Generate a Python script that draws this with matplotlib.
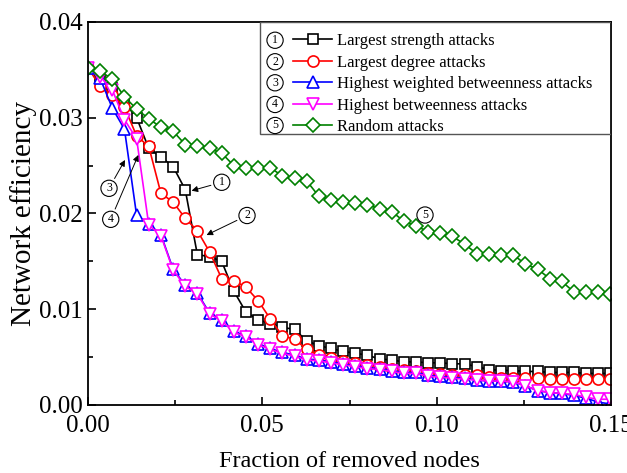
import numpy as np
import matplotlib
matplotlib.use("Agg")
import matplotlib.pyplot as plt
from matplotlib.patches import Rectangle

plt.rcParams['font.family'] = ['Liberation Serif', 'DejaVu Serif']

# fraction of removed nodes: k removed out of 287 nodes
n_nodes = 287
removed = np.arange(44)
frac = removed / n_nodes

strength = [0.0352, 0.0342, 0.0331, 0.0316, 0.0300, 0.0268, 0.0259, 0.0249, 0.0225, 0.0157,
            0.0155, 0.0150, 0.0119, 0.0097, 0.0089, 0.0085, 0.0081, 0.0079, 0.0067, 0.0062,
            0.0059, 0.0056, 0.0054, 0.0052, 0.0048, 0.0047, 0.0045, 0.0045, 0.0044, 0.0044,
            0.0043, 0.0043, 0.0040, 0.0037, 0.0036, 0.0036, 0.0035, 0.0035, 0.0034, 0.0034,
            0.0034, 0.0033, 0.0033, 0.0033]
degree = [0.0352, 0.0333, 0.0324, 0.0311, 0.0281, 0.0270, 0.0221, 0.0212, 0.0195, 0.0182,
          0.0160, 0.0132, 0.0130, 0.0123, 0.0109, 0.0090, 0.0072, 0.0069, 0.0058, 0.0052,
          0.0049, 0.0046, 0.0044, 0.0042, 0.0040, 0.0038, 0.0037, 0.0035, 0.0033, 0.0032,
          0.0031, 0.0031, 0.0031, 0.0029, 0.0028, 0.0028, 0.0028, 0.0028, 0.0027, 0.0027,
          0.0027, 0.0027, 0.0027, 0.0027]
w_betweenness = [0.0352, 0.0341, 0.0310, 0.0288, 0.0198, 0.0189, 0.0178, 0.0142, 0.0125, 0.0117,
                 0.0096, 0.0089, 0.0077, 0.0072, 0.0064, 0.0059, 0.0055, 0.0052, 0.0048, 0.0047,
                 0.0045, 0.0043, 0.0041, 0.0039, 0.0038, 0.0036, 0.0034, 0.0034, 0.0031, 0.0030,
                 0.0029, 0.0028, 0.0026, 0.0025, 0.0025, 0.0024, 0.0020, 0.0015, 0.0013, 0.0012,
                 0.0010, 0.0007, 0.0003, 0.0001]
betweenness = [0.0352, 0.0343, 0.0329, 0.0298, 0.0278, 0.0188, 0.0177, 0.0141, 0.0124, 0.0116,
               0.0095, 0.0088, 0.0076, 0.0071, 0.0063, 0.0058, 0.0054, 0.0051, 0.0047, 0.0046,
               0.0044, 0.0042, 0.0040, 0.0038, 0.0037, 0.0035, 0.0033, 0.0033, 0.0030, 0.0029,
               0.0028, 0.0027, 0.0026, 0.0025, 0.0025, 0.0024, 0.0020, 0.0015, 0.0013, 0.0012,
               0.0011, 0.0008, 0.0006, 0.0006]
random_att = [0.0352, 0.0349, 0.0340, 0.0322, 0.0309, 0.0299, 0.0290, 0.0286, 0.0272, 0.0271,
              0.0268, 0.0263, 0.0250, 0.0248, 0.0248, 0.0248, 0.0239, 0.0237, 0.0234, 0.0218,
              0.0214, 0.0212, 0.0211, 0.0209, 0.0205, 0.0202, 0.0192, 0.0187, 0.0181, 0.0180,
              0.0176, 0.0168, 0.0158, 0.0158, 0.0157, 0.0157, 0.0147, 0.0142, 0.0132, 0.0129,
              0.0118, 0.0118, 0.0118, 0.0116]

labels = ["Largest strength attacks", "Largest degree attacks",
          "Highest weighted betweenness attacks", "Highest betweenness attacks",
          "Random attacks"]
numerals = ["1", "2", "3", "4", "5"]

fig = plt.figure(figsize=(6.27, 4.73), dpi=100)
ax = fig.add_axes([0.1404, 0.1438, 0.8341, 0.8097])

style = dict(lw=1.2, ms=8, mfc='white', mew=1.2)
ax.plot(frac, strength, color='black', marker='s', label=labels[0],
        lw=1.2, ms=7.6, mfc='white', mew=1.2)
ax.plot(frac, degree, color='red', marker='o', label=labels[1], **style)
ax.plot(frac, w_betweenness, color='blue', marker='^', label=labels[2], **style)
ax.plot(frac, betweenness, color='magenta', marker='v', label=labels[3], **style)
ax.plot(frac, random_att, color='green', marker='D', label=labels[4],
        lw=1.2, ms=7, mfc='white', mew=1.2)

ax.set_xlim(0, 0.15)
ax.set_ylim(0, 0.04)
ax.set_xticks([0, 0.05, 0.10, 0.15])
ax.set_xticklabels(["0.00", "0.05", "0.10", "0.15"])
ax.set_yticks([0, 0.01, 0.02, 0.03, 0.04])
ax.set_yticklabels(["0.00", "0.01", "0.02", "0.03", "0.04"])
ax.set_xticks([0.025, 0.075, 0.125], minor=True)
ax.set_yticks([0.005, 0.015, 0.025, 0.035], minor=True)
ax.tick_params(which='both', direction='in', top=False, right=False, labelsize=18, width=1.2)
ax.tick_params(which='major', length=6)
ax.tick_params(which='minor', length=3.5)
ax.tick_params(axis='x', pad=7)
ax.tick_params(axis='y', pad=4)
for sp in ax.spines.values():
    sp.set_linewidth(1.3)

ax.set_xlabel("Fraction of removed nodes", fontsize=17.5, labelpad=10)
ax.set_ylabel("Network efficiency", fontsize=21, labelpad=1)

# legend with circled numbers in front
ax.add_patch(Rectangle((0.329, 0.7076), 0.671, 0.2924, transform=ax.transAxes,
                       fill=False, ec='#555555', lw=1.0, zorder=5))
leg = ax.legend(loc='upper left', bbox_to_anchor=(0.392, 0.9705), frameon=False,
                fontsize=12, handlelength=2.35, handletextpad=0.3, labelspacing=0.33,
                borderpad=0, borderaxespad=0)
row_y = [0.9523, 0.8962, 0.8413, 0.7846, 0.7298]
for num, yy in zip(numerals, row_y):
    ax.text(0.3576, yy, num, transform=ax.transAxes, fontsize=8.5, ha='center', va='center',
            bbox=dict(boxstyle='circle,pad=0.18', fc='white', ec='black', lw=0.8), zorder=6)

circ = dict(boxstyle='circle,pad=0.18', fc='white', ec='black', lw=0.8)
arrow = dict(arrowstyle='-|>', lw=0.7, color='black', mutation_scale=9, shrinkB=0)
ax.annotate("1", xy=(0.0297, 0.02238), xytext=(0.03835, 0.02326), fontsize=8.5,
            ha='center', va='center', bbox=circ, arrowprops=arrow)
ax.annotate("2", xy=(0.0340, 0.01775), xytext=(0.0456, 0.01979), fontsize=8.5,
            ha='center', va='center', bbox=circ, arrowprops=arrow)
ax.annotate("3", xy=(0.01061, 0.02559), xytext=(0.00602, 0.02263), fontsize=8.5,
            ha='center', va='center', bbox=circ, arrowprops=arrow)
ax.annotate("4", xy=(0.01443, 0.02611), xytext=(0.00651, 0.01939), fontsize=8.5,
            ha='center', va='center', bbox=circ, arrowprops=arrow)
ax.text(0.09665, 0.01984, "5", fontsize=8.5, ha='center', va='center', bbox=circ)

fig.savefig("out.png", dpi=100)
